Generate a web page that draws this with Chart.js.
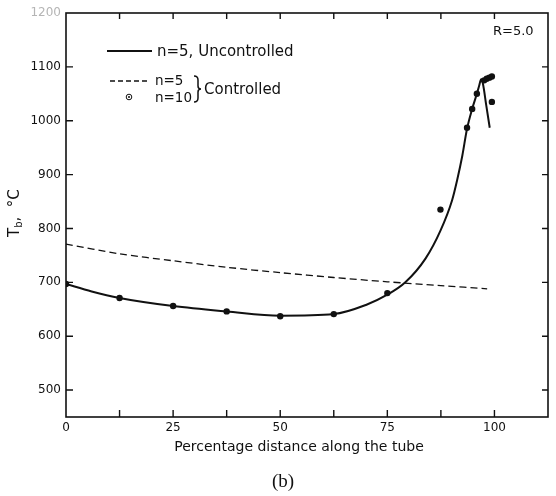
<!DOCTYPE html>
<html>
<head>
  <title>Tb along the tube</title>
  <script src="https://cdn.jsdelivr.net/npm/chart.js"></script>
  <style>
    body { margin: 0; background: #fff; }
    canvas { display: block; }
  </style>
</head>
<body>
  <canvas id="tb-profile" width="556" height="496"></canvas>

  <script>
    // n=5, uncontrolled (solid curve)
    const uncontrolledX = [0, 6, 12.5, 25, 37.5, 50, 62.5, 70, 75, 79.2, 83.9, 87.4, 90.1, 91.3, 92.5, 93.6, 94.8, 95.9, 96.4, 96.9, 97.3, 98.1, 98.9];
    const uncontrolledY = [697, 683, 671, 656, 646, 638, 641, 658, 677, 700, 744, 796, 852, 890, 935, 985, 1022, 1050, 1064, 1077, 1069, 1028, 987];

    // n=5, controlled (dashed curve)
    const controlled5X = [0, 12.5, 25, 37.5, 50, 62.5, 75, 87.5, 98.3];
    const controlled5Y = [771, 753, 740, 728, 718, 709, 701, 694, 688];

    // n=10, controlled (dots)
    const controlled10X = [0, 12.5, 25, 37.5, 50, 62.5, 75, 87.4, 93.6, 94.8, 95.9, 97.6, 98.2, 98.8, 99.4, 99.4];
    const controlled10Y = [697, 671, 656, 646, 637, 641, 680, 835, 987, 1022, 1050, 1075, 1078, 1080, 1082, 1035];

    const xTicks = [0, 25, 50, 75, 100];
    const xMarks = [12.5, 25, 37.5, 50, 62.5, 75, 87.5, 100];
    const yTicks = [500, 600, 700, 800, 900, 1000, 1100, 1200];
    const yMarks = [500, 600, 700, 800, 900, 1000, 1100];

    const FONT = "'DejaVu Sans', sans-serif";
    const INK = '#111';

    const toPoints = (xs, ys) => xs.map((x, i) => ({ x: x, y: ys[i] }));

    // frame, inward ticks, legend and titles
    const decorations = {
      id: 'decorations',
      afterDraw(chart) {
        const ctx = chart.ctx;
        const a = chart.chartArea;
        const xs = chart.scales.x, ys = chart.scales.y;
        ctx.save();
        ctx.strokeStyle = INK;
        ctx.fillStyle = INK;

        ctx.lineWidth = 1.6;
        ctx.strokeRect(a.left, a.top, a.right - a.left, a.bottom - a.top);

        ctx.lineWidth = 1.4;
        ctx.beginPath();
        xMarks.forEach(v => {
          const px = xs.getPixelForValue(v);
          ctx.moveTo(px, a.bottom); ctx.lineTo(px, a.bottom - 7);
          ctx.moveTo(px, a.top); ctx.lineTo(px, a.top + 6);
        });
        yMarks.forEach(v => {
          const py = ys.getPixelForValue(v);
          ctx.moveTo(a.left, py); ctx.lineTo(a.left + 7, py);
          ctx.moveTo(a.right, py); ctx.lineTo(a.right - 6, py);
        });
        ctx.stroke();

        // legend
        ctx.lineWidth = 2;
        ctx.beginPath();
        ctx.moveTo(107, 51); ctx.lineTo(152, 51);
        ctx.stroke();
        ctx.lineWidth = 1.3;
        ctx.setLineDash([5, 3]);
        ctx.beginPath();
        ctx.moveTo(110, 81); ctx.lineTo(148, 81);
        ctx.stroke();
        ctx.setLineDash([]);
        ctx.lineWidth = 1;
        ctx.beginPath();
        ctx.arc(129, 97, 2.8, 0, Math.PI * 2);
        ctx.stroke();
        ctx.beginPath();
        ctx.arc(129, 97, 1, 0, Math.PI * 2);
        ctx.fill();

        // brace
        ctx.lineWidth = 1.5;
        ctx.beginPath();
        ctx.moveTo(194, 76);
        ctx.quadraticCurveTo(198, 76, 198, 80);
        ctx.lineTo(198, 86);
        ctx.quadraticCurveTo(198, 89, 201, 89);
        ctx.quadraticCurveTo(198, 89, 198, 92);
        ctx.lineTo(198, 98);
        ctx.quadraticCurveTo(198, 102, 194, 102);
        ctx.stroke();

        ctx.textBaseline = 'middle';
        ctx.textAlign = 'left';
        ctx.font = '15px ' + FONT;
        ctx.fillText('n=5, Uncontrolled', 157, 52);
        ctx.fillText('Controlled', 204, 90);
        ctx.font = '13.5px ' + FONT;
        ctx.fillText('n=5', 155, 81);
        ctx.fillText('n=10', 155, 98);

        ctx.font = '13px ' + FONT;
        ctx.fillText('R=5.0', 493, 32);

        // x title
        ctx.textAlign = 'center';
        ctx.font = '14px ' + FONT;
        ctx.fillText('Percentage distance along the tube', 299, 447);

        ctx.font = '19px "Liberation Serif", serif';
        ctx.fillText('(b)', 283, 482);

        // y title, rotated
        ctx.translate(15, 237);
        ctx.rotate(-Math.PI / 2);
        ctx.textAlign = 'left';
        ctx.font = '15px ' + FONT;
        ctx.fillText('T', 0, 0);
        let w = ctx.measureText('T').width;
        ctx.font = '10px ' + FONT;
        ctx.fillText('b', w, 4);
        w += ctx.measureText('b').width;
        ctx.font = '15px ' + FONT;
        ctx.fillText(',  \u00b0C', w, 0);
        ctx.restore();
      }
    };

    new Chart(document.getElementById('tb-profile').getContext('2d'), {
      type: 'scatter',
      data: {
        datasets: [
          {
            label: 'n=10, Controlled',
            data: toPoints(controlled10X, controlled10Y),
            showLine: false,
            pointRadius: 3.2,
            pointBackgroundColor: INK,
            pointBorderColor: INK,
            pointBorderWidth: 0
          },
          {
            label: 'n=5, Uncontrolled',
            data: toPoints(uncontrolledX, uncontrolledY),
            showLine: true,
            borderColor: INK,
            borderWidth: 2,
            pointRadius: 0,
            cubicInterpolationMode: 'monotone'
          },
          {
            label: 'n=5, Controlled',
            data: toPoints(controlled5X, controlled5Y),
            showLine: true,
            borderColor: INK,
            borderWidth: 1.3,
            borderDash: [7, 4],
            pointRadius: 0,
            tension: 0.3
          }
        ]
      },
      options: {
        responsive: false,
        animation: false,
        events: [],
        layout: { padding: { left: 0, top: 13, right: 8, bottom: 0 } },
        plugins: {
          legend: { display: false },
          tooltip: { enabled: false }
        },
        scales: {
          x: {
            type: 'linear',
            min: 0,
            max: 112.5,
            afterBuildTicks: s => { s.ticks = xTicks.map(v => ({ value: v })); },
            afterFit: s => { s.height = 79; },
            grid: { display: false, drawTicks: false },
            border: { display: false },
            ticks: {
              color: INK, padding: 4, maxRotation: 0,
              font: { family: FONT, size: 12 },
              callback: v => String(v)
            }
          },
          y: {
            type: 'linear',
            min: 450,
            max: 1200,
            afterBuildTicks: s => { s.ticks = yTicks.map(v => ({ value: v })); },
            afterFit: s => { s.width = 66; },
            grid: { display: false, drawTicks: false },
            border: { display: false },
            ticks: {
              padding: 5,
              font: { family: FONT, size: 12 },
              color: c => (c.tick && c.tick.value === 1200 ? '#b5b5b5' : INK),
              callback: v => String(v)
            }
          }
        }
      },
      plugins: [decorations]
    });
  </script>
</body>
</html>
